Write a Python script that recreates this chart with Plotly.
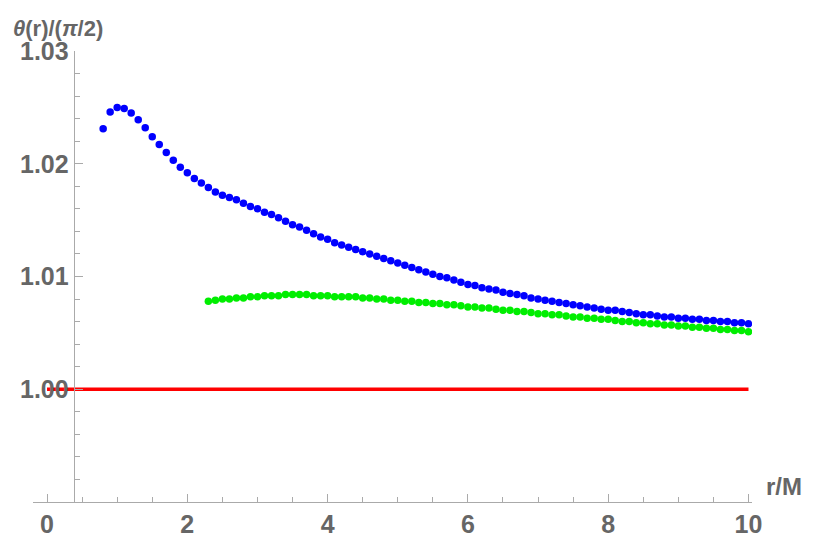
import numpy as np
import plotly.graph_objects as go

blue_r = [round(0.8 + 0.1*i, 1) for i in range(93)]
blue_theta = [1.0231,1.0246,1.0250,1.0249,1.0245,1.0239,1.0232,1.0224,1.0217,1.0210,
 1.0203,1.0197,1.0192,1.0187,1.0183,1.0179,1.0175,1.0172,1.0170,1.0168,
 1.0165,1.0162,1.0160,1.0157,1.0155,1.0152,1.0149,1.0146,1.0144,1.0141,
 1.0138,1.0135,1.0133,1.0130,1.0128,1.0126,1.0124,1.0122,1.0120,1.0118,
 1.0116,1.0114,1.0112,1.0110,1.0108,1.0106,1.0104,1.0102,1.0100,1.0099,
 1.0097,1.0095,1.0093,1.0092,1.0090,1.0089,1.0088,1.0086,1.0085,1.0084,
 1.0083,1.0081,1.0080,1.0079,1.0078,1.0077,1.0076,1.0075,1.0074,1.0073,
 1.0072,1.0071,1.0070,1.0070,1.0069,1.0068,1.0067,1.0066,1.0066,1.0065,
 1.0064,1.0064,1.0063,1.0063,1.0062,1.0062,1.0061,1.0061,1.0060,1.0060,
 1.0059,1.0059,1.0058]

green_r = [round(2.3 + 0.1*i, 1) for i in range(78)]
green_theta = [1.0078,1.0079,1.0080,1.0080,1.0081,1.0081,1.0082,1.0082,1.0083,1.0083,
 1.0083,1.0084,1.0084,1.0084,1.0084,1.0083,1.0083,1.0083,1.0082,1.0082,
 1.0082,1.0082,1.0081,1.0081,1.0080,1.0080,1.0079,1.0079,1.0078,1.0078,
 1.0077,1.0077,1.0076,1.0076,1.0075,1.0075,1.0074,1.0073,1.0073,1.0072,
 1.0072,1.0071,1.0070,1.0070,1.0069,1.0069,1.0068,1.0067,1.0067,1.0066,
 1.0066,1.0065,1.0064,1.0064,1.0063,1.0063,1.0062,1.0062,1.0061,1.0060,
 1.0060,1.0059,1.0059,1.0058,1.0058,1.0057,1.0057,1.0056,1.0056,1.0055,
 1.0055,1.0054,1.0054,1.0053,1.0053,1.0052,1.0052,1.0051]

ref_r = [0, 10]
ref_theta = [1.0, 1.0]

x_ticks = [0, 2, 4, 6, 8, 10]
y_ticks = [1.00, 1.01, 1.02, 1.03]

grey = "#666666"
fnt = "Liberation Sans"
fig = go.Figure()
fig.add_trace(go.Scatter(x=ref_r, y=ref_theta, mode="lines", line=dict(color="#FF0000", width=3.5)))
fig.add_trace(go.Scatter(x=green_r, y=green_theta, mode="markers", marker=dict(color="#00EE00", size=7.5)))
fig.add_trace(go.Scatter(x=blue_r, y=blue_theta, mode="markers", marker=dict(color="#0000FF", size=7.5)))

xr = [-0.2, 10.05]
fig.update_layout(
    width=830, height=549, showlegend=False,
    plot_bgcolor="white", paper_bgcolor="white",
    margin=dict(l=22, r=86, t=43, b=55),
    font=dict(family=fnt, color=grey),
    xaxis=dict(range=xr, tickvals=x_ticks, showgrid=False, zeroline=False,
               showline=True, linecolor="#aaaaaa", linewidth=1,
               ticks="inside", ticklen=8, tickcolor="#aaaaaa",
               minor=dict(dtick=0.5, tick0=0, ticks="inside", ticklen=5, tickcolor="#aaaaaa"),
               tickfont=dict(size=25, family=fnt, color=grey, weight="bold")),
    yaxis=dict(range=[0.99, 1.03], tickvals=y_ticks, tickformat=".2f", showgrid=False, zeroline=False,
               anchor="free", position=(0.38 - xr[0]) / (xr[1] - xr[0]),
               showline=True, linecolor="#aaaaaa", linewidth=1,
               ticks="inside", ticklen=8, tickcolor="#aaaaaa",
               minor=dict(dtick=0.002, ticks="inside", ticklen=5, tickcolor="#aaaaaa"),
               tickfont=dict(size=25, family=fnt, color=grey, weight="bold")),
    annotations=[
        dict(text="<b><i>θ</i>(r)/(<i>π</i>/2)</b>", xref="paper", yref="paper", x=-0.031, y=1.0,
             xanchor="left", yanchor="bottom", yshift=8, showarrow=False,
             font=dict(size=22, color=grey, family=fnt)),
        dict(text="<b>r/M</b>", xref="paper", yref="paper", x=1.0, y=0.0,
             xanchor="left", yanchor="bottom", xshift=12, showarrow=False,
             font=dict(size=24, color=grey, family=fnt)),
    ],
)
fig.write_html("out.html")
